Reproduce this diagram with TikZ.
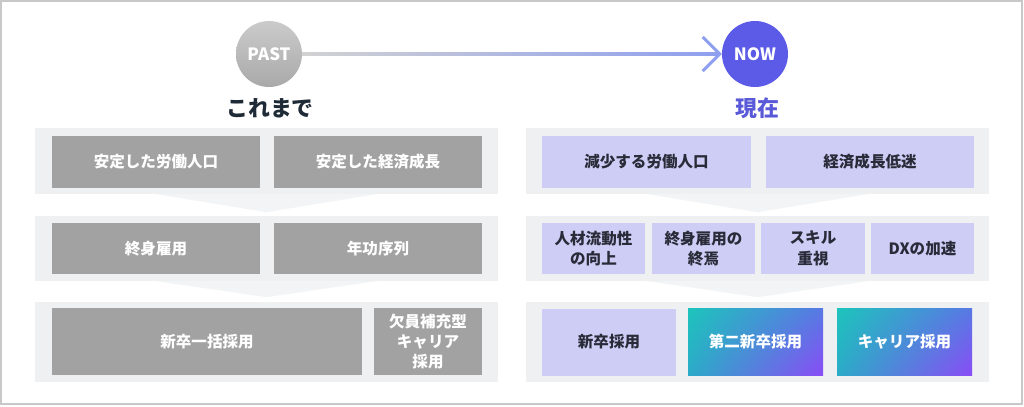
\documentclass[tikz,border=0pt]{standalone}
\usepackage{fontspec}
\setmainfont{Noto Sans CJK JP}
\usetikzlibrary{arrows.meta,calc,shadings}
\definecolor{framegray}{HTML}{C8C8C8}
\definecolor{panel}{HTML}{EEF0F2}
\definecolor{chev}{HTML}{F3F4F5}
\definecolor{boxgray}{HTML}{A2A2A2}
\definecolor{boxpurple}{HTML}{CDCDF6}
\definecolor{textdark}{HTML}{2A2B38}
\definecolor{titledark}{HTML}{1F2A37}
\definecolor{nowblue}{HTML}{5B5BE8}
\definecolor{nowtext}{HTML}{5A5AD8}
\definecolor{arrowblue}{HTML}{8E9FEF}
\definecolor{linegray}{HTML}{D2D2D2}
\definecolor{pastTop}{HTML}{CBCBCB}
\definecolor{pastBot}{HTML}{A9A9A9}
\definecolor{gradUL}{HTML}{1DC4BC}
\definecolor{gradUR}{HTML}{5878E4}
\definecolor{gradLL}{HTML}{2BAAC8}
\definecolor{gradLR}{HTML}{8A4CF6}
\newcommand{\boxfont}{\fontsize{15.6}{20.5}\selectfont\bfseries}
\begin{document}
\begin{tikzpicture}[x=1bp,y=-1bp,
  panelbox/.style={fill=panel, inner sep=0, minimum width=463bp},
  basebox/.style={inner sep=0, align=center, font=\boxfont},
  gbox/.style={basebox, fill=boxgray, text=white},
  pbox/.style={basebox, fill=boxpurple, text=textdark},
  gradbox/.style={basebox, shade, upper left=gradUL, upper right=gradUR, lower left=gradLL, lower right=gradLR, text=white},
  chevron/.style={fill=chev},
  circ/.style={circle, inner sep=0, minimum size=66bp, text=white, font=\fontsize{17}{17}\selectfont\bfseries}
]
\useasboundingbox (0,0) rectangle (1024,406);
\draw[framegray, line width=2bp] (1,1) rectangle (1022,404);

% timeline
\node[circ, top color=pastTop, bottom color=pastBot] (past) at (269,54) {PAST};
\node[circ, fill=nowblue] (now) at (755,54) {NOW};
\draw[line width=3bp, arrowblue, -{Straight Barb[length=17bp,width=34bp,line width=3bp]}] (past) -- (now);
\shade[left color=linegray, right color=arrowblue] ($(past.east)+(0,-1.5)$) rectangle ($(now.west)+(-4,1.5)$);

\node[text=titledark, font=\fontsize{22}{22}\selectfont\bfseries] (tpast) at (270,108) {これまで};
\node[text=nowtext, font=\fontsize{22}{22}\selectfont\bfseries] (tnow) at (757,108) {現在};

% ---------- left column ----------
\node[panelbox, minimum height=66bp] (lp1) at (266.5,161) {};
\node[panelbox, minimum height=65bp] (lp2) at (266.5,248.5) {};
\node[panelbox, minimum height=80bp] (lp3) at (266.5,342) {};
\fill[chevron] ($(lp1.south)+(-110,0)$) -- ($(lp1.south)+(110,0)$) -- ($(lp1.south)+(0,18)$) -- cycle;
\fill[chevron] ($(lp2.south)+(-110,0)$) -- ($(lp2.south)+(110,0)$) -- ($(lp2.south)+(0,16)$) -- cycle;

\node[gbox, minimum width=208bp, minimum height=52bp] (l11) at (156,162) {安定した労働人口};
\node[gbox, minimum width=208bp, minimum height=52bp] (l12) at (378,162) {安定した経済成長};
\node[gbox, minimum width=208bp, minimum height=51bp] (l21) at (156,248.5) {終身雇用};
\node[gbox, minimum width=208bp, minimum height=51bp] (l22) at (378,248.5) {年功序列};
\node[gbox, minimum width=310bp, minimum height=67bp] (l31) at (207,341.5) {新卒一括採用};
\node[gbox, minimum width=108bp, minimum height=67bp] (l32) at (428,341.5) {欠員補充型\\キャリア\\採用};

% ---------- right column ----------
\node[panelbox, minimum height=66bp] (rp1) at (757.5,161) {};
\node[panelbox, minimum height=65bp] (rp2) at (757.5,248.5) {};
\node[panelbox, minimum height=80bp] (rp3) at (757.5,342) {};
\fill[chevron] ($(rp1.south)+(-110,0)$) -- ($(rp1.south)+(110,0)$) -- ($(rp1.south)+(0,18)$) -- cycle;
\fill[chevron] ($(rp2.south)+(-110,0)$) -- ($(rp2.south)+(110,0)$) -- ($(rp2.south)+(0,16)$) -- cycle;

\node[pbox, minimum width=209bp, minimum height=52bp] (r11) at (646.5,162) {減少する労働人口};
\node[pbox, minimum width=208bp, minimum height=52bp] (r12) at (870,162) {経済成長低迷};
\node[pbox, minimum width=103bp, minimum height=51bp] (r21) at (593.5,248.5) {人材流動性\\の向上};
\node[pbox, minimum width=103bp, minimum height=51bp] (r22) at (703.5,248.5) {終身雇用の\\終焉};
\node[pbox, minimum width=104bp, minimum height=51bp] (r23) at (813,248.5) {スキル\\重視};
\node[pbox, minimum width=103bp, minimum height=51bp] (r24) at (922.5,248.5) {DXの加速};
\node[pbox, minimum width=134bp, minimum height=67bp] (r31) at (609,342) {新卒採用};
\node[gradbox, minimum width=135bp, minimum height=67bp] (r32) at (755.5,342) {第二新卒採用};
\node[gradbox, minimum width=135bp, minimum height=67bp] (r33) at (904.5,342) {キャリア採用};
\end{tikzpicture}
\end{document}
